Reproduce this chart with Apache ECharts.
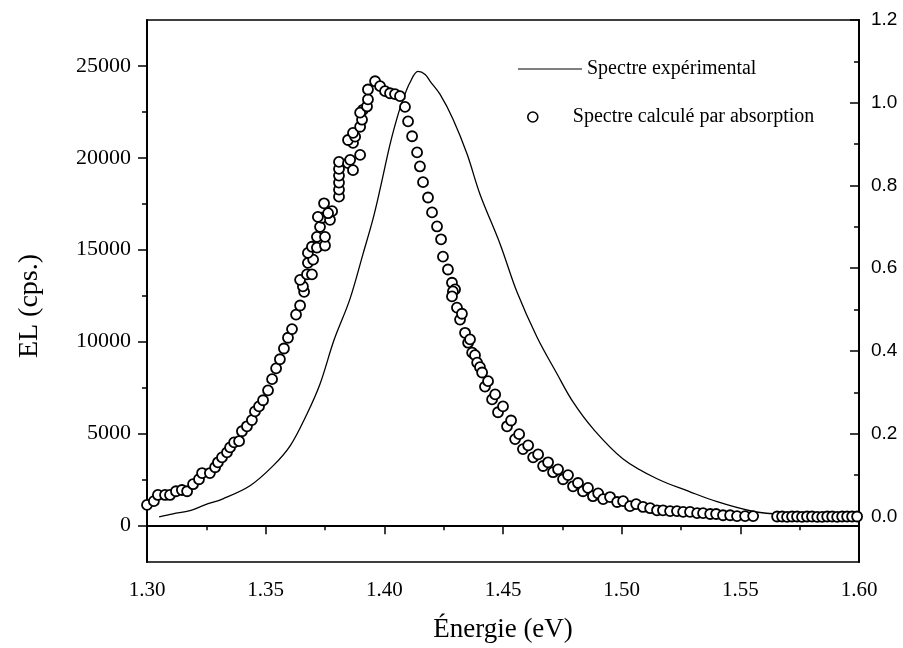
<!DOCTYPE html>
<html>
<head>
<meta charset="utf-8">
<title>Spectre EL</title>
<script src="https://cdn.jsdelivr.net/npm/echarts@6/dist/echarts.min.js"></script>
<style>
    html, body { margin: 0; padding: 0; background: #fff; }
    #chart { width: 903px; height: 648px; }
</style>
</head>
<body>
<div id="chart"></div>
<script>
// experimental spectrum (left axis, cps)
var expEnergy = [1.3051, 1.3110, 1.3181, 1.3244, 1.3320, 1.3434, 1.3531, 1.3603, 1.3674, 1.3729,
    1.3788, 1.3855, 1.3910, 1.3952, 1.3982, 1.4024, 1.4058, 1.4079, 1.4108, 1.4142,
    1.4172, 1.4193, 1.4235, 1.4290, 1.4349, 1.4403, 1.4488, 1.4559, 1.4643, 1.4728,
    1.4795, 1.4880, 1.5006, 1.5149, 1.5288, 1.5402, 1.5541, 1.5638, 1.5752, 1.5878, 1.5984];
var expCounts = [460, 625, 790, 1110, 1440, 2150, 3230, 4320, 6060, 7690,
    10080, 12310, 14760, 16660, 18290, 20730, 22360, 23180, 24100, 24700,
    24540, 24160, 23450, 22090, 20190, 18020, 15300, 12690, 10250, 8230,
    6710, 5245, 3610, 2530, 1820, 1280, 790, 625, 570, 515, 515];

// spectrum computed from absorption (right axis, normalised)
var calcEnergy = [1.3000, 1.3029, 1.3046, 1.3076, 1.3097, 1.3122, 1.3147, 1.3169, 1.3194, 1.3219,
    1.3232, 1.3265, 1.3287, 1.3299, 1.3316, 1.3337, 1.3350, 1.3367, 1.3388, 1.3400,
    1.3421, 1.3442, 1.3455, 1.3472, 1.3489, 1.3510, 1.3527, 1.3544, 1.3560, 1.3577,
    1.3594, 1.3611, 1.3628, 1.3645, 1.3662, 1.3657, 1.3645, 1.3674, 1.3695, 1.3678,
    1.3700, 1.3678, 1.3695, 1.3716, 1.3750, 1.3716, 1.3750, 1.3729, 1.3737, 1.3720,
    1.3771, 1.3780, 1.3763, 1.3746, 1.3809, 1.3809, 1.3809, 1.3809, 1.3809, 1.3809,
    1.3847, 1.3868, 1.3898, 1.3856, 1.3868, 1.3847, 1.3877, 1.3868, 1.3898, 1.3906,
    1.3910, 1.3898, 1.3927, 1.3931, 1.3931, 1.3961, 1.3982, 1.4003, 1.4024, 1.4045,
    1.4066, 1.4087, 1.4100, 1.4117, 1.4138, 1.4150, 1.4163, 1.4184, 1.4201, 1.4222,
    1.4239, 1.4247, 1.4268, 1.4285, 1.4298, 1.4289, 1.4285, 1.4306, 1.4319, 1.4327,
    1.4340, 1.4353, 1.4361, 1.4370, 1.4382, 1.4391, 1.4403, 1.4412, 1.4424, 1.4437,
    1.4454, 1.4467, 1.4479, 1.4500, 1.4517, 1.4534, 1.4551, 1.4568, 1.4584, 1.4606,
    1.4627, 1.4648, 1.4669, 1.4690, 1.4711, 1.4732, 1.4753, 1.4774, 1.4795, 1.4816,
    1.4837, 1.4858, 1.4879, 1.4901, 1.4922, 1.4951, 1.4981, 1.5006, 1.5035, 1.5061,
    1.5090, 1.5120, 1.5149, 1.5174, 1.5204, 1.5233, 1.5259, 1.5288, 1.5318, 1.5343,
    1.5373, 1.5398, 1.5427, 1.5457, 1.5486, 1.5520, 1.5554, 1.5655, 1.5676, 1.5697,
    1.5718, 1.5739, 1.5760, 1.5781, 1.5802, 1.5824, 1.5845, 1.5866, 1.5887, 1.5908,
    1.5929, 1.5950, 1.5971, 1.5992];
var calcIntensity = [0.028, 0.037, 0.052, 0.052, 0.052, 0.061, 0.064, 0.061, 0.078, 0.090,
    0.105, 0.105, 0.119, 0.131, 0.143, 0.155, 0.167, 0.179, 0.182, 0.206,
    0.218, 0.233, 0.254, 0.266, 0.281, 0.305, 0.332, 0.358, 0.380, 0.406,
    0.432, 0.453, 0.488, 0.510, 0.543, 0.556, 0.572, 0.585, 0.585, 0.613,
    0.621, 0.637, 0.652, 0.650, 0.655, 0.676, 0.676, 0.700, 0.722, 0.724,
    0.717, 0.738, 0.733, 0.757, 0.773, 0.790, 0.807, 0.824, 0.840, 0.857,
    0.854, 0.837, 0.874, 0.862, 0.903, 0.910, 0.918, 0.927, 0.942, 0.959,
    0.983, 0.976, 0.991, 1.008, 1.032, 1.052, 1.040, 1.028, 1.023, 1.021,
    1.016, 0.990, 0.955, 0.919, 0.880, 0.846, 0.808, 0.771, 0.735, 0.701,
    0.670, 0.628, 0.597, 0.565, 0.549, 0.544, 0.532, 0.505, 0.476, 0.490,
    0.444, 0.420, 0.428, 0.396, 0.390, 0.372, 0.361, 0.348, 0.314, 0.327,
    0.283, 0.295, 0.252, 0.266, 0.218, 0.232, 0.187, 0.199, 0.163, 0.172,
    0.143, 0.150, 0.122, 0.131, 0.107, 0.114, 0.090, 0.100, 0.073, 0.081,
    0.061, 0.069, 0.049, 0.056, 0.042, 0.047, 0.035, 0.037, 0.025, 0.030,
    0.023, 0.020, 0.015, 0.015, 0.013, 0.013, 0.011, 0.011, 0.008, 0.008,
    0.006, 0.006, 0.003, 0.003, 0.001, 0.001, 0.001, 0.000, 0.000, -0.001,
    0.000, 0.000, -0.001, 0.000, 0.000, -0.001, -0.001, 0.000, 0.000, -0.001,
    0.000, 0.000, 0.000, 0.000];

// tick positions
var leftTicks = [0, 5000, 10000, 15000, 20000, 25000];
var leftMinorTicks = [2500, 7500, 12500, 17500, 22500];
var rightTicks = [0, 0.2, 0.4, 0.6, 0.8, 1.0, 1.2];
var rightMinorTicks = [0.1, 0.3, 0.5, 0.7, 0.9, 1.1];

var SERIF = '"Liberation Serif", "Times New Roman", serif';
var SANS = '"Liberation Sans", Arial, sans-serif';

/**
 * Zips two parallel arrays into [x, y] pairs.
 */
function pairs(xs, ys) {
    var out = [];
    for (var i = 0; i < xs.length; i++) {
        out.push([xs[i], ys[i]]);
    }
    return out;
}

/**
 * Returns a y axis that only draws extra (minor) ticks.
 */
function minorAxis(position, min, max, values, inside) {
    return {
        type: 'value',
        position: position,
        min: min,
        max: max,
        splitLine: {show: false},
        axisLine: {show: false},
        axisLabel: {show: false},
        axisTick: {
            show: true,
            inside: inside,
            length: 5,
            customValues: values,
            lineStyle: {color: '#000', width: 1.5}
        }
    };
}

var chart = echarts.init(document.getElementById('chart'));
var options = {
    animation: false,
    backgroundColor: '#fff',
    grid: {
        left: 147,
        right: 44,
        top: 20,
        bottom: 85,
        show: true,
        borderColor: '#000',
        borderWidth: 1.5
    },
    legend: [{
        data: ['Spectre expérimental'],
        left: 513,
        top: 54,
        icon: 'rect',
        itemWidth: 64,
        itemHeight: 1.2,
        itemStyle: {color: '#000'},
        textStyle: {fontFamily: SERIF, fontSize: 20, color: '#000'}
    }, {
        data: ['Spectre calculé par absorption'],
        left: 522,
        top: 102,
        icon: 'circle',
        itemWidth: 10,
        itemHeight: 10,
        itemStyle: {color: '#fff', borderColor: '#000', borderWidth: 1.6},
        textStyle: {fontFamily: SERIF, fontSize: 20, color: '#000', padding: [0, 0, 0, 30]}
    }],
    xAxis: {
        type: 'value',
        min: 1.3,
        max: 1.6,
        interval: 0.05,
        name: 'Énergie (eV)',
        nameLocation: 'middle',
        nameGap: 54,
        nameTextStyle: {fontFamily: SERIF, fontSize: 27, color: '#000'},
        splitLine: {show: false},
        axisLine: {lineStyle: {color: '#000', width: 2}},
        axisTick: {length: 9, lineStyle: {color: '#000', width: 1.5}},
        minorTick: {show: true, splitNumber: 2, length: 5, lineStyle: {color: '#000', width: 1.5}},
        axisLabel: {
            margin: 18,
            fontFamily: SERIF,
            fontSize: 21,
            color: '#000',
            formatter: function (v) { return v.toFixed(2); }
        }
    },
    yAxis: [{
        type: 'value',
        position: 'left',
        min: -2000,
        max: 27500,
        name: 'EL (cps.)',
        nameLocation: 'middle',
        nameGap: 103,
        nameTextStyle: {fontFamily: SERIF, fontSize: 28, color: '#000', padding: [0, 30, 0, 0]},
        splitLine: {show: false},
        axisLine: {show: true, lineStyle: {color: '#000', width: 2}},
        axisTick: {show: true, length: 9, customValues: leftTicks, lineStyle: {color: '#000', width: 1.5}},
        axisLabel: {
            customValues: leftTicks,
            margin: 16,
            fontFamily: SERIF,
            fontSize: 22,
            color: '#000',
            formatter: function (v) { return String(v); }
        }
    }, {
        type: 'value',
        position: 'right',
        min: -0.11,
        max: 1.2,
        splitLine: {show: false},
        axisLine: {show: true, lineStyle: {color: '#000', width: 2}},
        axisTick: {show: true, inside: true, length: 9, customValues: rightTicks, lineStyle: {color: '#000', width: 1.5}},
        axisLabel: {
            customValues: rightTicks,
            margin: 12,
            fontFamily: SANS,
            fontSize: 19,
            color: '#000',
            formatter: function (v) { return v.toFixed(1); }
        }
    },
        minorAxis('left', -2000, 27500, leftMinorTicks, false),
        minorAxis('right', -0.11, 1.2, rightMinorTicks, true)
    ],
    series: [{
        name: 'Spectre expérimental',
        type: 'line',
        yAxisIndex: 0,
        data: pairs(expEnergy, expCounts),
        showSymbol: false,
        smooth: 0.35,
        color: '#000',
        lineStyle: {color: '#000', width: 1.3},
        z: 2
    }, {
        name: 'Spectre calculé par absorption',
        type: 'scatter',
        yAxisIndex: 1,
        data: pairs(calcEnergy, calcIntensity),
        symbol: 'circle',
        symbolSize: 10,
        itemStyle: {color: '#fff', borderColor: '#000', borderWidth: 1.8, opacity: 1},
        z: 3
    }]
};
chart.setOption(options);
</script>
</body>
</html>
